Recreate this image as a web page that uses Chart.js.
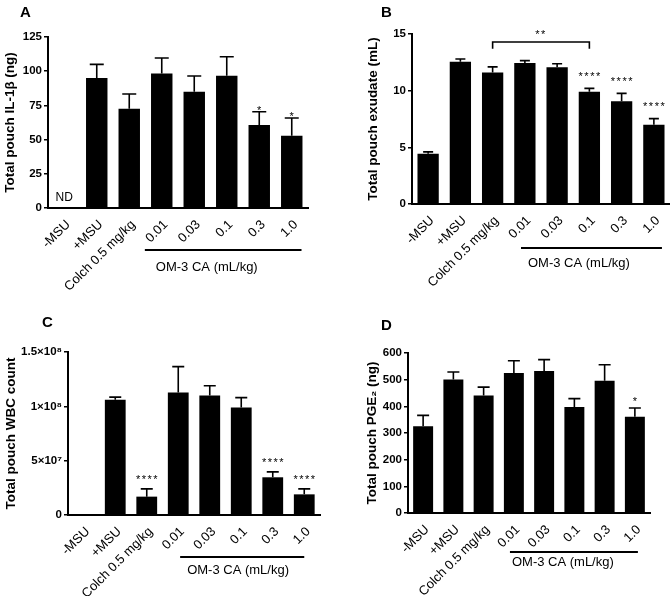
<!DOCTYPE html>
<html><head><meta charset="utf-8">
<script src="https://cdn.jsdelivr.net/npm/chart.js@4"></script>
<style>
body{margin:0;background:#fff;width:670px;height:596px;position:relative;overflow:hidden;font-family:"Liberation Sans",Arial,sans-serif}
canvas{position:absolute}
.let{position:absolute;font-size:15px;font-weight:bold;color:#000;line-height:1}
</style></head>
<body>
<canvas id="cA" width="335" height="300" style="left:0;top:0;width:335px;height:300px"></canvas>
<canvas id="cB" width="335" height="300" style="left:335px;top:0;width:335px;height:300px"></canvas>
<canvas id="cC" width="335" height="296" style="left:0;top:300px;width:335px;height:296px"></canvas>
<canvas id="cD" width="335" height="296" style="left:335px;top:300px;width:335px;height:296px"></canvas>
<div class="let" style="left:20px;top:4px">A</div>
<div class="let" style="left:381px;top:4px">B</div>
<div class="let" style="left:42px;top:314px">C</div>
<div class="let" style="left:381px;top:317px">D</div>
<script>
const categories = ['-MSU','+MSU','Colch 0.5 mg/kg','0.01','0.03','0.1','0.3','1.0'];

const il1bMean = [null,95,72.6,98.4,85,96.7,60.7,52.9];
const il1bSem  = [null,10,10.7,11.2,11.5,13.9,9.7,12.9];
const il1bStars = ['','','','','','','*','*'];
const il1bTicks = [0,25,50,75,100,125];

const exudateMean = [4.44,12.56,11.6,12.44,12.06,9.91,9.06,7.0];
const exudateSem  = [0.16,0.24,0.5,0.21,0.32,0.29,0.7,0.53];
const exudateStars = ['','','','','','****','****','****'];
const exudateTicks = [0,5,10,15];

const wbcMean = [600000,106000000,16900000,112800000,110000000,99000000,34700000,19000000];
const wbcSem  = [0,2500000,7100000,23700000,9000000,9000000,5000000,5000000];
const wbcStars = ['','','****','','','','****','****'];
const wbcTicks = [0,50000000,100000000,150000000];
const wbcTickLabels = ['0','5×10⁷','1×10⁸','1.5×10⁸'];

const pge2Mean = [325,501,441,525,532.5,397.5,496,361];
const pge2Sem  = [41,28,31,46,42.5,31.5,60,33];
const pge2Stars = ['','','','','','','','*'];
const pge2Ticks = [0,100,200,300,400,500,600];

const FAM = '"Liberation Sans", Arial, sans-serif';
Chart.defaults.font.family = FAM;
Chart.defaults.color = '#000';

const annot = {
  id:'annot',
  afterDatasetsDraw(chart, args, opts){
    const p = opts.panel; if(!p) return;
    const ctx = chart.ctx, xs = chart.scales.x, ys = chart.scales.y;
    const meta = chart.getDatasetMeta(0);
    const cat = (xs.getPixelForValue(1) - xs.getPixelForValue(0));
    ctx.save();
    ctx.fillStyle = '#000'; ctx.strokeStyle = '#000';
    meta.data.forEach((bar,i)=>{
      const m = p.mean[i];
      if(m==null) return;
      const s = p.sem[i]||0;
      const top = ys.getPixelForValue(m+s);
      if(s>0){
        ctx.lineWidth = 1.6;
        ctx.beginPath();
        ctx.moveTo(bar.x, ys.getPixelForValue(m)); ctx.lineTo(bar.x, top);
        ctx.moveTo(bar.x-p.cap, top); ctx.lineTo(bar.x+p.cap, top);
        ctx.stroke();
      }
      if(p.stars[i]){
        const fs = 11;
        ctx.font = fs+'px '+FAM;
        ctx.letterSpacing = '1.5px';
        ctx.textAlign = 'center'; ctx.textBaseline = 'alphabetic';
        ctx.fillText(p.stars[i], bar.x+0.75, top - p.starGap + 0.58*fs);
        ctx.letterSpacing = '0px';
      }
    });
    if(p.nd){
      ctx.font = '12px '+FAM; ctx.textAlign='center'; ctx.textBaseline='middle';
      ctx.fillText('ND', xs.getPixelForValue(0), ys.bottom-10);
    }
    if(p.bracket){
      const b = p.bracket;
      const x1 = xs.getPixelForValue(b.from), x2 = xs.getPixelForValue(b.to);
      const yb = ys.getPixelForValue(b.value), yt = ys.getPixelForValue(b.value - b.drop);
      ctx.lineWidth = 1.6;
      ctx.beginPath();
      ctx.moveTo(x1, yt); ctx.lineTo(x1, yb); ctx.lineTo(x2, yb); ctx.lineTo(x2, yt);
      ctx.stroke();
      ctx.font = '11px '+FAM; ctx.letterSpacing='1.5px';
      ctx.textAlign='center'; ctx.textBaseline='alphabetic';
      ctx.fillText(b.label, (x1+x2)/2, yb - 10 + 0.58*11);
      ctx.letterSpacing='0px';
    }
    // OM-3 CA group line
    const g = p.group;
    const xa = xs.getPixelForValue(3) + g.start*cat;
    const xb = xs.getPixelForValue(7) + g.end*cat;
    const yl = ys.bottom + g.lineDy;
    ctx.lineWidth = 2;
    ctx.beginPath(); ctx.moveTo(xa, yl); ctx.lineTo(xb, yl); ctx.stroke();
    ctx.font = '13px '+FAM; ctx.textAlign='left'; ctx.textBaseline='middle';
    ctx.fillText('OM-3 CA (mL/kg)', xa + g.textDx, ys.bottom + g.textDy);
    ctx.restore();
  }
};

function makeChart(id, p){
  return new Chart(document.getElementById(id), {
    type:'bar',
    data:{labels:categories, datasets:[{data:p.mean, backgroundColor:'#000', borderWidth:0, barPercentage:0.66, categoryPercentage:1}]},
    options:{
      responsive:false, animation:false, devicePixelRatio:1,
      layout:{padding:{left:0, top:p.top, right:p.right, bottom:0}},
      plugins:{legend:{display:false}, tooltip:{enabled:false}, annot:{panel:p}},
      scales:{
        x:{
          grid:{display:false},
          border:{display:true, color:'#000', width:2},
          ticks:{color:'#000', font:{size:13}, maxRotation:45, minRotation:45, padding:1, labelOffset:4, autoSkip:false},
          afterFit(s){ s.height = p.xh; }
        },
        y:{
          min:p.ticks[0], max:p.ticks[p.ticks.length-1],
          grid:{display:true, drawOnChartArea:false, drawTicks:true, tickLength:4, color:'#000', lineWidth:1.5},
          border:{display:true, color:'#000', width:2},
          ticks:{color:'#000', font:{size:11.5, weight:'bold'}, padding:2,
                 callback:(v,i)=> p.tickLabels ? p.tickLabels[i] : String(v)},
          title:{display:true, text:p.title, color:'#000', font:{size:13.5, weight:'bold'}, padding:{top:p.tpad, bottom:0}},
          afterBuildTicks(s){ s.ticks = p.ticks.map(v=>({value:v})); },
          afterFit(s){ s.width = p.left; }
        }
      }
    },
    plugins:[annot]
  });
}

makeChart('cA', {mean:il1bMean, sem:il1bSem, stars:il1bStars, ticks:il1bTicks,
  title:'Total pouch IL-1β (ng)', top:37, right:27, xh:92, left:48, tpad:2, cap:7, starGap:4, nd:true,
  group:{start:-0.52, end:0.3, lineDy:42, textDx:11, textDy:59}});
makeChart('cB', {mean:exudateMean, sem:exudateSem, stars:exudateStars, ticks:exudateTicks,
  title:'Total pouch exudate (mL)', top:34, right:0, xh:96, left:77, tpad:30, cap:5, starGap:15,
  bracket:{from:2, to:5, value:14.3, drop:0.6, label:'**'},
  group:{start:-0.12, end:0.25, lineDy:44, textDx:7, textDy:59}});
makeChart('cC', {mean:wbcMean, sem:wbcSem, stars:wbcStars, ticks:wbcTicks, tickLabels:wbcTickLabels,
  title:'Total pouch WBC count', top:52, right:15, xh:81, left:68, tpad:3, cap:6, starGap:12,
  group:{start:0.06, end:0.0, lineDy:42, textDx:7, textDy:55}});
makeChart('cD', {mean:pge2Mean, sem:pge2Sem, stars:pge2Stars, ticks:pge2Ticks,
  title:'Total pouch PGE₂ (ng)', top:53, right:20, xh:83, left:73, tpad:29, cap:6, starGap:9,
  group:{start:-0.13, end:0.1, lineDy:39, textDx:2, textDy:49}});
</script>
</body></html>
